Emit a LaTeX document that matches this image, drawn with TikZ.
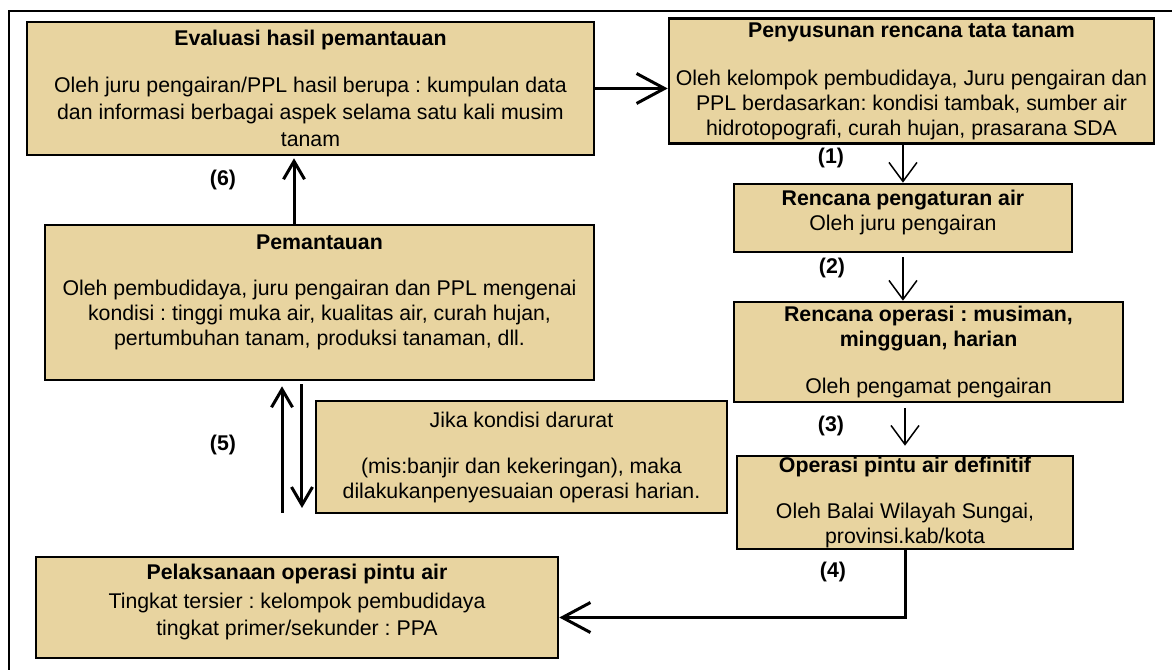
\documentclass[tikz,border=0pt]{standalone}
\usepackage{fontspec}
\setmainfont{Liberation Sans}
\usetikzlibrary{arrows.meta, positioning}
\definecolor{papyrus}{RGB}{232, 212, 160}
\frenchspacing

\begin{document}
\begin{tikzpicture}[
  stagebox/.style={draw, line width=1.3pt, fill=papyrus, align=center, inner sep=2pt,
    font=\fontsize{10.65}{12.5}\selectfont},
  steplabel/.style={font=\fontsize{10.65}{12.5}\selectfont\bfseries},
  mainflow/.style={line width=1.5pt, -{Straight Barb[length=14pt, width=15pt]}},
  sideflow/.style={line width=1.5pt, -{Straight Barb[length=9pt, width=10.5pt]}},
  subflow/.style={line width=0.75pt, -{Straight Barb[length=9.5pt, width=14pt]}}
]
  \useasboundingbox (0,0) rectangle (20.596, 11.774);
  % outer frame
  \draw[line width=0.6pt] (0.158,0) -- (0.158,11.581) -- (20.596,11.581);

  % Evaluation
  \node[stagebox, minimum width=283.5pt, minimum height=66.5pt] (eval) at (5.456, 10.219) {
    \textbf{Evaluasi hasil pemantauan}\\[11pt]
    Oleh juru pengairan/PPL hasil berupa : kumpulan data\\[1pt]
    dan informasi berbagai aspek selama satu kali musim\\[1pt]
    tanam
  };

  % Planting plan
  \node[stagebox, minimum width=242.5pt, minimum height=61pt] (plan) at (16.018, 10.350) {
    \textbf{Penyusunan rencana tata tanam}\\[11.5pt]
    Oleh kelompok pembudidaya, Juru pengairan dan\\
    PPL berdasarkan: kondisi tambak, sumber air\\
    hidrotopografi, curah hujan, prasarana SDA
  };

  % Water regulation plan
  \node[stagebox, minimum width=169pt, minimum height=34pt] (regplan) at (15.868, 7.943) {
    \textbf{Rencana pengaturan air}\\
    Oleh juru pengairan\\[-5pt]
    \mbox{}
  };

  % Operation plan
  \node[stagebox, minimum width=194.5pt, minimum height=50pt] (opsplan) at (16.317, 5.588) {
    \textbf{Rencana operasi : musiman,}\\
    \textbf{mingguan, harian}\\[11pt]
    Oleh pengamat pengairan
  };

  % Definitive gate operation
  \node[stagebox, minimum width=168pt, minimum height=46.5pt, inner ysep=0pt] (opsgate) at (15.904, 2.943) {
    \textbf{Operasi pintu air definitif}\\[10.5pt]
    Oleh Balai Wilayah Sungai,\\
    provinsi.kab/kota
  };

  % Gate operation
  \node[stagebox, minimum width=261pt, minimum height=50.5pt] (exec) at (5.219, 1.098) {
    \textbf{Pelaksanaan operasi pintu air}\\[2pt]
    Tingkat tersier : kelompok pembudidaya\\[1pt]
    tingkat primer/sekunder : PPA\\[-5pt]
    \mbox{}
  };

  % Monitoring
  \node[stagebox, minimum width=274.5pt, minimum height=77.5pt] (monitor) at (5.615, 6.458) {
    \textbf{Pemantauan}\\[10.5pt]
    Oleh pembudidaya, juru pengairan dan PPL mengenai\\
    kondisi : tinggi muka air, kualitas air, curah hujan,\\
    pertumbuhan tanam, produksi tanaman, dll.\\
    \mbox{}
  };

  % Emergency
  \node[stagebox, minimum width=205.5pt, minimum height=56pt] (emerg) at (9.164, 3.743) {
    Jika kondisi darurat\\[10.5pt]
    (mis:banjir dan kekeringan), maka\\
    dilakukanpenyesuaian operasi harian.
  };

  % step labels
  \node[steplabel] (lblone) at (14.603, 8.997) {(1)};
  \node[steplabel] (lbltwo) at (14.621, 7.064) {(2)};
  \node[steplabel] (lblthree) at (14.603, 4.288) {(3)};
  \node[steplabel] (lblfour) at (14.638, 1.722) {(4)};
  \node[steplabel] (lblfive) at (3.919, 3.954) {(5)};
  \node[steplabel] (lblsix) at (3.919, 8.611) {(6)};

  \coordinate (upfoot) at (4.956, 2.759);
  \coordinate (downfoot) at (5.307, 2.847);

  % arrows
  \draw[mainflow] (eval.east) -- (eval.east -| plan.west);
  \draw[subflow] (regplan.north |- plan.south) -- (regplan.north);
  \draw[subflow, shorten <=2pt] (regplan.south) -- (regplan.south |- opsplan.north);
  \draw[subflow, shorten <=2.5pt, shorten >=4.5pt] (opsgate.north |- opsplan.south) -- (opsgate.north);
  \draw[mainflow] (opsgate.south) |- ([yshift=-5pt]exec.east);
  \draw[sideflow, shorten >=2.5pt] (upfoot) -- (upfoot |- monitor.south);
  \draw[sideflow, shorten <=1.5pt] (downfoot |- monitor.south) -- (downfoot);
  \draw[sideflow, shorten >=1pt] ([xshift=-12.75pt]monitor.north) -- ([xshift=-12.75pt]monitor.north |- eval.south);
\end{tikzpicture}
\end{document}
